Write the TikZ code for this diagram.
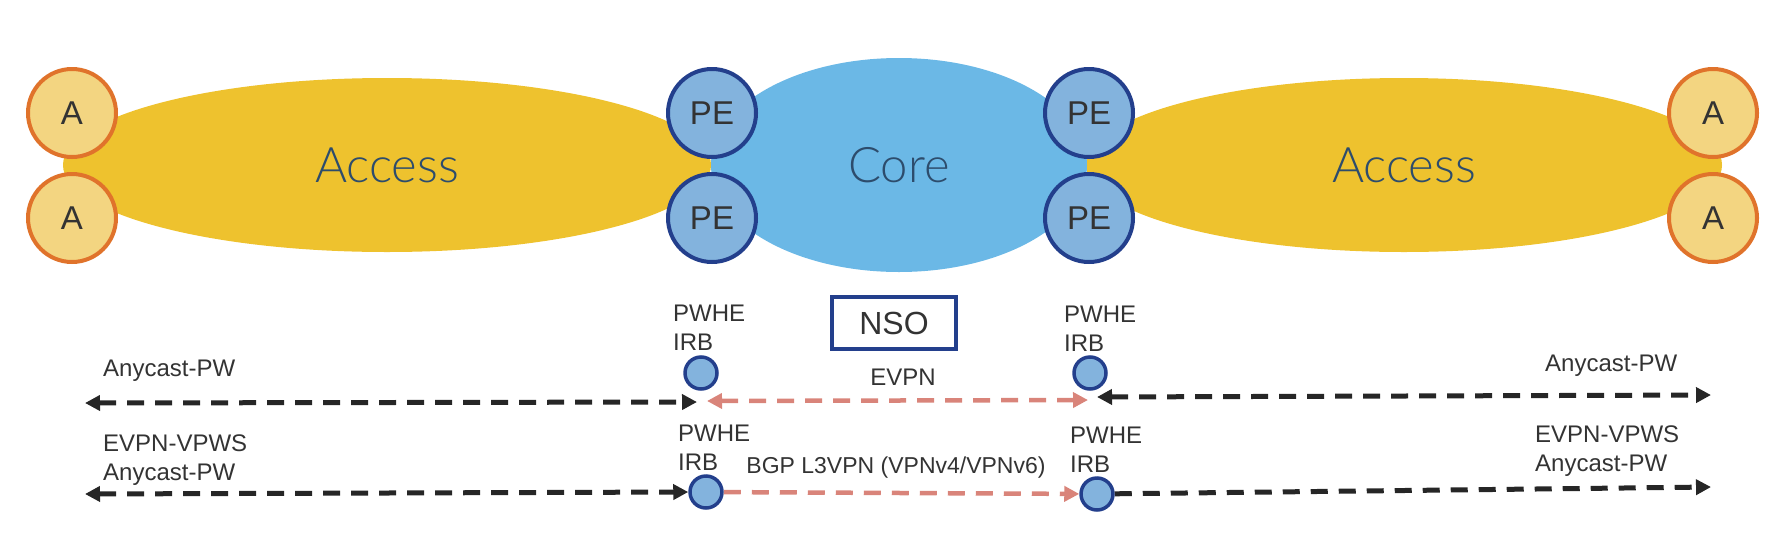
\documentclass[tikz,border=0pt]{standalone}
\usepackage{fontspec}
\setmainfont{Liberation Sans}
\newfontfamily\thinfont{Lato Light}
\usetikzlibrary{arrows.meta, shapes, positioning}
\definecolor{accessyellow}{HTML}{EEC22E}
\definecolor{afill}{HTML}{F3D581}
\definecolor{aedge}{HTML}{E0732B}
\definecolor{corecol}{HTML}{6BB8E6}
\definecolor{pefill}{HTML}{83B3DD}
\definecolor{peedge}{HTML}{233F8C}
\definecolor{cloudtext}{HTML}{2D4C6C}
\definecolor{evpnred}{HTML}{D9847A}
\definecolor{darktext}{HTML}{333333}
\tikzset{%
  >={Triangle[width=15pt,length=15pt]},
  % Specifications for style of nodes:
	base/.style = {inner sep=0pt, align=center},
	cloud/.style = {base, ellipse, text=cloudtext, font=\thinfont\fontsize{49}{52}\selectfont},
	access/.style = {cloud, fill=accessyellow, minimum width=648pt, minimum height=174pt},
	core/.style = {cloud, fill=corecol, minimum width=376pt, minimum height=214pt},
	router/.style = {base, circle, line width=4pt, minimum size=88pt, text=darktext,
                           font=\fontsize{33}{36}\selectfont},
	anode/.style = {router, draw=aedge, fill=afill},
	penode/.style = {router, draw=peedge, fill=pefill},
	irb/.style = {base, circle, draw=peedge, fill=pefill, line width=3.5pt, minimum size=32pt},
	nso/.style = {base, draw=peedge, line width=4pt, minimum width=124pt, minimum height=52pt,
                           text=darktext, font=\fontsize{32}{36}\selectfont},
	lbl/.style = {inner sep=0pt, align=left, text=darktext, font=\fontsize{24}{29}\selectfont},
	norm/.style={draw, black!85, line width=5pt, dash pattern=on 17pt off 11pt},
	evpn/.style={norm, evpnred, line width=4.5pt},
}

\begin{document}
\begin{tikzpicture}[x=1pt, y=-1pt]
  \useasboundingbox (0,0) rectangle (1785,536);
  % Access and core clouds
  \node (accL) [access] at (387,165) {Access};
  \node (accR) [access, minimum width=636pt] at (1404,165) {Access};
  \node (core) [core] at (899,165) {Core};

  % Access and PE routers
  \node (aLT) [anode] at (72,113) {A};
  \node (aLB) [anode] at (72,218) {A};
  \node (aRT) [anode] at (1713,113) {A};
  \node (aRB) [anode] at (1713,218) {A};
  \node (peLT) [penode] at (712,113) {PE};
  \node (peLB) [penode] at (712,218) {PE};
  \node (peRT) [penode] at (1089,113) {PE};
  \node (peRB) [penode] at (1089,218) {PE};

  \node (nso) [nso] at (894,323) {NSO};

  % PWHE interfaces
  \node (irbUL) [irb] at (701,373) {};
  \node (irbUR) [irb] at (1090,373) {};
  \node (irbLL) [irb] at (706,492) {};
  \node (irbLR) [irb] at (1097,494) {};
  \node (pwUL) [lbl, anchor=west] at (673,328) {PWHE\\IRB};
  \node (pwUR) [lbl, anchor=west] at (1064,329) {PWHE\\IRB};
  \node (pwLL) [lbl, anchor=west] at (678,448) {PWHE\\IRB};
  \node (pwLR) [lbl, anchor=west] at (1070,450) {PWHE\\IRB};

  % Service labels
  \node (apwUL) [lbl, anchor=base west] at (103,376) {Anycast-PW};
  \node (apwUR) [lbl, anchor=base west] at (1545,371) {Anycast-PW};
  \node (vpwsL) [lbl, anchor=west] at (103,460) {EVPN-VPWS\\Anycast-PW};
  \node (vpwsR) [lbl, anchor=west] at (1535,451) {EVPN-VPWS\\Anycast-PW};
  \node (evpnT) [lbl, anchor=base] at (903,385) {EVPN};
  \node (bgpT) [lbl, anchor=base, font=\fontsize{23}{28}\selectfont] at (896,473) {BGP L3VPN (VPNv4/VPNv6)};

  \coordinate (c1) at (85,403);
  \coordinate (c2) at (697,402);
  \coordinate (c3) at (707,401);
  \coordinate (c4) at (1088,400);
  \coordinate (c5) at (1097,397);
  \coordinate (c6) at (1711,395);
  \coordinate (c7) at (85,494);
  \coordinate (c8) at (1711,487);

  \draw [norm, <->] (c1) -- (c2);
  \draw [evpn, <->] (c3) -- (c4);
  \draw [norm, <->] (c5) -- (c6);
  \draw [norm, <->] (c7) -- (irbLL.west);
  \draw [evpn, ->] (irbLL) -- (irbLR);
  \draw [norm, ->] (irbLR) -- (c8);
\end{tikzpicture}
\end{document}
